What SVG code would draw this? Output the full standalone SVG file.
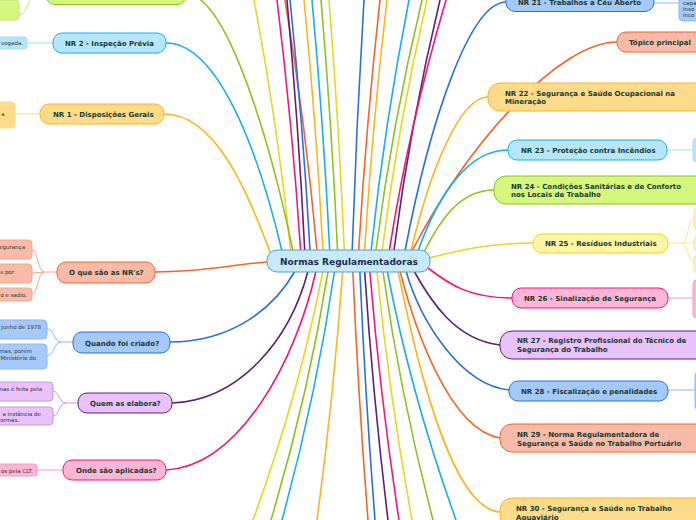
<svg xmlns="http://www.w3.org/2000/svg" width="696" height="520" viewBox="0 0 696 520">
<style>
.c{fill:none;stroke-width:1.6;stroke-linecap:round}
.s{fill:none;stroke-width:1}
.or{stroke:#f4652e}.og{stroke:#fdb51f}.ye{stroke:#ecd51c}.gr{stroke:#8dc21f}.cy{stroke:#17aeee}.bl{stroke:#2b6fdc}.pu{stroke:#5e1f78}.pk{stroke:#ef1877}
.lor{stroke:#f8a58a}.log{stroke:#fdd785}.lye{stroke:#f6e88a}.lgr{stroke:#c2e27e}.lcy{stroke:#a6dcf6}.lbl{stroke:#8db7f2}.lpu{stroke:#c79ad9}.lpk{stroke:#f59bc3}
.n{stroke-width:1}
.for{fill:#f9bba7}.fog{fill:#fedb8b}.fye{fill:#fff5a5}.fgr{fill:#d6f77e}.fcy{fill:#b6e6fb}.fbl{fill:#a6c9fb}.fpu{fill:#e9c1fb}.fpk{fill:#ffb5d5}
.t{font-family:"DejaVu Sans",Verdana,sans-serif;font-weight:bold;font-size:7px;fill:#183a30}
.ct{font-family:"DejaVu Sans",Verdana,sans-serif;font-size:5.5px;fill:#333}
</style>
<g id="connectors">
<path class="c ye" d="M290.6,250 Q277.8,125 254,0"/>
<path class="c pk" d="M300.6,250 Q292.3,125 277,0"/>
<path class="c or" d="M316.9,250 Q305.7,125 285,0"/>
<path class="c pu" d="M304.7,250 Q298.5,125 287,0"/>
<path class="c bl" d="M310,250 Q303,125 290,0"/>
<path class="c og" d="M322.9,250 Q316.3,125 304,0"/>
<path class="c cy" d="M329.7,250 Q323.5,125 312,0"/>
<path class="c gr" d="M337.5,250 Q331.7,125 321,0"/>
<path class="c ye" d="M344.3,250 Q338.9,125 329,0"/>
<path class="c bl" d="M352.2,250 Q356.3,125 364,0"/>
<path class="c or" d="M358.7,250 Q366.2,125 380,0"/>
<path class="c og" d="M364.6,250 Q372.4,125 387,0"/>
<path class="c cy" d="M371.2,250 Q384.4,125 409,0"/>
<path class="c gr" d="M376,250 Q392.1,125 422,0"/>
<path class="c ye" d="M382.2,250 Q397.9,125 427,0"/>
<path class="c pu" d="M394,250 Q410.1,125 440,0"/>
<path class="c pk" d="M389.4,250 Q409.2,125 446,0"/>
<path class="c ye" d="M322.8,272 Q298.4,396 253,520"/>
<path class="c gr" d="M328,272 Q308,396 271,520"/>
<path class="c cy" d="M334.4,272 Q316.1,396 282,520"/>
<path class="c og" d="M342.6,272 Q333.6,396 317,520"/>
<path class="c or" d="M352.9,272 Q358.2,396 368,520"/>
<path class="c bl" d="M359.9,272 Q365.2,396 375,520"/>
<path class="c pu" d="M364.7,272 Q372.9,396 388,520"/>
<path class="c pk" d="M369.9,272 Q380.1,396 399,520"/>
<path class="c ye" d="M377.1,272 Q389.3,396 412,520"/>
<path class="c gr" d="M383,272 Q400.5,396 433,520"/>
<path class="c cy" d="M387.4,272 Q411.4,396 456,520"/>
<path class="c og" d="M164,114 C215,114 247,190 270,252"/>
<path class="c cy" d="M166,43 C218,43 258,150 282,251"/>
<path class="c gr" d="M186,-6 C228,-6 272,150 293,251"/>
<path class="c or" d="M155,272 C205,272 235,264 268,262"/>
<path class="c bl" d="M170,342 C228,342 272,312 295,271"/>
<path class="c pu" d="M172,403 C240,400 290,340 308,271"/>
<path class="c pk" d="M166,470 C240,466 296,360 316,271"/>
<path class="c bl" d="M506,2 C470,2 430,120 405,251"/>
<path class="c or" d="M617,42 C560,42 470,140 412,251"/>
<path class="c og" d="M488,97 C460,97 430,170 411,251"/>
<path class="c cy" d="M508,150 C470,150 440,190 418,251"/>
<path class="c gr" d="M494,190 C460,190 440,220 424,252"/>
<path class="c ye" d="M533,243 C490,243 460,250 429,258"/>
<path class="c pk" d="M512,298 C470,298 450,285 428,268"/>
<path class="c pu" d="M500,345 C455,340 430,300 414,271"/>
<path class="c bl" d="M509,390 C460,385 420,320 406,271"/>
<path class="c or" d="M500,438 C450,430 415,330 400,271"/>
<path class="c og" d="M500,512 C455,510 420,380 398,271"/>
<path class="s lgr" d="M19,15 C25,15 27,6 31,-2"/>
<path class="s lcy" d="M27,43 L53,43"/>
<path class="s log" d="M15,114 L40,114"/>
<path class="s lor" d="M57,272 L44,272 C38,272 38,250 32,250 M44,272 L32,273 M44,272 C38,272 38,294 32,294"/>
<path class="s lbl" d="M73,342 L61,342 C54,342 54,329 47,329 M61,342 C54,342 54,356 47,356"/>
<path class="s lpu" d="M78,403 L66,403 C59,403 59,391 53,391 M66,403 C59,403 59,416 53,416"/>
<path class="s lpk" d="M37,470 L63,470"/>
<path class="s lbl" d="M654,3 L679,3"/>
<path class="s lcy" d="M667,150 L693,150"/>
<path class="s lye" d="M668,243 L682,243 C688,243 688,219 694,219 M682,243 L694,243 M682,243 C688,243 688,262 694,262"/>
<path class="s lpk" d="M668,298 L693,298"/>
<path class="s lbl" d="M668,390 L695,390"/>
</g>
<g id="center">
<rect x="267" y="250" width="163" height="22" rx="10" fill="#c7ebfb" stroke="#4f9fd6" stroke-width="1"/>
<text x="280" y="264.5" font-family="DejaVu Sans, Verdana, sans-serif" font-weight="bold" font-size="9" fill="#1d2d50">Normas Regulamentadoras</text>
</g>
<g id="nr-top-left"><rect class="n fgr gr" x="46" y="-16" width="140" height="20.5" rx="9"/></g>
<g id="nr-top-left-child"><rect class="n fgr lgr" x="-30" y="0" width="49" height="20" rx="4"/></g>
<g id="nr2"><rect class="n fcy cy" x="53" y="33" width="113" height="20" rx="9"/><text class="t" x="65" y="45.5">NR 2 - Inspeção Prévia</text></g>
<g id="nr2-child"><rect class="n fcy lcy" x="-60" y="37" width="87" height="12" rx="3"/><text class="ct" x="23" y="45" text-anchor="end">vogada.</text></g>
<g id="nr1"><rect class="n fog og" x="40" y="104" width="124" height="20" rx="9"/><text class="t" x="53" y="116.5">NR 1 - Disposições Gerais</text></g>
<g id="nr1-child"><rect class="n fog log" x="-60" y="102" width="75" height="26" rx="4"/><text class="ct" x="4.5" y="116" text-anchor="end">a</text></g>
<g id="oque"><rect class="n for or" x="57" y="262" width="98" height="21" rx="9"/><text class="t" x="69" y="275">O que são as NR's?</text></g>
<g id="oque-c1"><rect class="n for lor" x="-80" y="240" width="112" height="19" rx="4"/><text class="ct" x="25" y="249.3" text-anchor="end">egurança</text></g>
<g id="oque-c2"><rect class="n for lor" x="-80" y="264" width="112" height="19" rx="4"/><text class="ct" x="14" y="273.7" text-anchor="end">s por</text></g>
<g id="oque-c3"><rect class="n for lor" x="-80" y="288" width="112" height="13" rx="3"/><text class="ct" x="27" y="297" text-anchor="end">o e sadio.</text></g>
<g id="quando"><rect class="n fbl bl" x="73" y="332" width="97" height="21" rx="9"/><text class="t" x="85" y="345.5">Quando foi criado?</text></g>
<g id="quando-c1"><rect class="n fbl lbl" x="-80" y="320" width="127" height="19" rx="4"/><text class="ct" x="41" y="329.3" text-anchor="end">junho de 1978</text></g>
<g id="quando-c2"><rect class="n fbl lbl" x="-80" y="344" width="127" height="25" rx="4"/><text class="ct" x="32" y="353" text-anchor="end">mas, porém</text><text class="ct" x="36" y="359.7" text-anchor="end">Ministério do</text></g>
<g id="quem"><rect class="n fpu pu" x="78" y="393" width="94" height="20" rx="9"/><text class="t" x="90" y="405.5">Quem as elabora?</text></g>
<g id="quem-c1"><rect class="n fpu lpu" x="-80" y="382" width="133" height="19" rx="4"/><text class="ct" x="42" y="391" text-anchor="end">nas é feita pela</text></g>
<g id="quem-c2"><rect class="n fpu lpu" x="-80" y="407" width="133" height="18" rx="4"/><text class="ct" x="41" y="415.5" text-anchor="end">a instância de</text><text class="ct" x="19" y="421.8" text-anchor="end">ormas.</text></g>
<g id="onde"><rect class="n fpk pk" x="63" y="460" width="103" height="20" rx="9"/><text class="t" x="76" y="472.5">Onde são aplicadas?</text></g>
<g id="onde-c1"><rect class="n fpk lpk" x="-80" y="464" width="117" height="12" rx="3"/><text class="ct" x="33" y="472.5" text-anchor="end">os pela CLT.</text></g>
<g id="nr21"><rect class="n fbl bl" x="506" y="-9" width="148" height="20.5" rx="9"/><text class="t" x="518" y="4.5">NR 21 - Trabalhos a Céu Aberto</text></g>
<g id="nr21-child"><rect class="n fbl lbl" x="679" y="-10" width="40" height="31" rx="4"/><text class="ct" x="683" y="4.5">capa</text><text class="ct" x="683" y="11">inso</text><text class="ct" x="683" y="17">inco</text></g>
<g id="topico"><rect class="n for or" x="617" y="32" width="90" height="20" rx="9"/><text class="t" x="629" y="44.5">Tópico principal</text></g>
<g id="nr22"><rect class="n fog og" x="488" y="83" width="220" height="28" rx="12"/><text class="t" x="505" y="95.5">NR 22 - Segurança e Saúde Ocupacional na</text><text class="t" x="505" y="104">Mineração</text></g>
<g id="nr23"><rect class="n fcy cy" x="508" y="140" width="159" height="20" rx="9"/><text class="t" x="521" y="152.5">NR 23 - Proteção contra Incêndios</text></g>
<g id="nr23-child"><rect class="n fcy lcy" x="693" y="138" width="30" height="24" rx="4"/></g>
<g id="nr24"><rect class="n fgr gr" x="494" y="176" width="214" height="28" rx="12"/><text class="t" x="511" y="189.3">NR 24 - Condições Sanitárias e de Conforto</text><text class="t" x="511" y="197">nos Locais de Trabalho</text></g>
<g id="nr25"><rect class="n fye ye" x="533" y="234" width="135" height="19" rx="9"/><text class="t" x="545" y="245.5">NR 25 - Resíduos Industriais</text></g>
<g id="nr25-c1"><rect class="n fye lye" x="694" y="208" width="30" height="22" rx="4"/></g>
<g id="nr25-c2"><rect class="n fye lye" x="694" y="236" width="30" height="15" rx="4"/></g>
<g id="nr25-c3"><rect class="n fye lye" x="694" y="255" width="30" height="18" rx="4"/></g>
<g id="nr26"><rect class="n fpk pk" x="512" y="288" width="156" height="20" rx="9"/><text class="t" x="524" y="300.5">NR 26 - Sinalização de Segurança</text></g>
<g id="nr26-child"><rect class="n fpk lpk" x="693" y="280" width="30" height="38" rx="4"/></g>
<g id="nr27"><rect class="n fpu pu" x="500" y="331" width="210" height="28" rx="12"/><text class="t" x="517" y="343">NR 27 - Registro Profissional do Técnico de</text><text class="t" x="517" y="352">Segurança do Trabalho</text></g>
<g id="nr28"><rect class="n fbl bl" x="509" y="381" width="159" height="20" rx="9"/><text class="t" x="521" y="394">NR 28 - Fiscalização e penalidades</text></g>
<g id="nr28-child"><rect class="n fbl lbl" x="695" y="372" width="30" height="38" rx="4"/></g>
<g id="nr29"><rect class="n for or" x="500" y="424" width="210" height="28" rx="12"/><text class="t" x="517" y="437">NR 29 - Norma Regulamentadora de</text><text class="t" x="517" y="446">Segurança e Saúde no Trabalho Portuário</text></g>
<g id="nr30"><rect class="n fog og" x="500" y="498" width="210" height="30" rx="12"/><text class="t" x="516" y="511">NR 30 - Segurança e Saúde no Trabalho</text><text class="t" x="516" y="519.5">Aquaviário</text></g>
</svg>
